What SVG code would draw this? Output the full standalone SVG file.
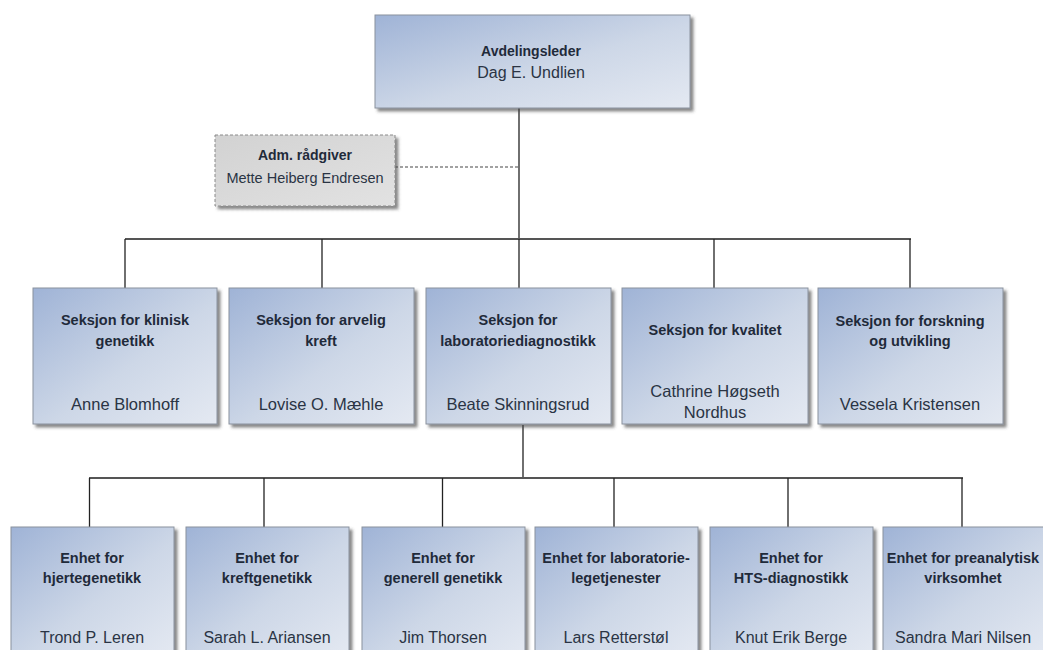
<svg xmlns="http://www.w3.org/2000/svg" width="1043" height="650" viewBox="0 0 1043 650">
<defs>
<linearGradient id="blue" x1="0" y1="0" x2="1" y2="1">
<stop offset="0" stop-color="#9fb3d6"/>
<stop offset="0.55" stop-color="#cdd7e7"/>
<stop offset="1" stop-color="#e4e9f2"/>
</linearGradient>
<linearGradient id="gray" x1="0" y1="0" x2="1" y2="1">
<stop offset="0" stop-color="#d2d2d2"/>
<stop offset="1" stop-color="#e2e2e2"/>
</linearGradient>
<filter id="sh" x="-10%" y="-10%" width="125%" height="130%">
<feDropShadow dx="3" dy="3" stdDeviation="1.6" flood-color="#444" flood-opacity="0.65"/>
</filter>
</defs>
<style>
.box{fill:url(#blue);stroke:#8a929e;stroke-width:1;filter:url(#sh)}
.adm{fill:url(#gray);stroke:#8a8a8a;stroke-width:1;stroke-dasharray:3 2;filter:url(#sh)}
.t{font-family:"Liberation Sans",Arial,sans-serif;font-size:14.5px;font-weight:bold;fill:#1f2a3a;text-anchor:middle}
.n{font-family:"Liberation Sans",Arial,sans-serif;font-size:16.5px;fill:#2a3444;text-anchor:middle}
.u{font-size:16px}
.c{stroke:#222;stroke-width:1.3;fill:none}
.bus{stroke:#555;stroke-width:2;fill:none}
.d{stroke:#444;stroke-width:1.2;stroke-dasharray:3 2;fill:none}
</style>
<rect width="1043" height="650" fill="#ffffff"/>
<g id="connectors">
<line class="c" x1="519" y1="108" x2="519" y2="239"/>
<line class="d" x1="395" y1="167" x2="519" y2="167"/>
<line class="bus" x1="125" y1="239" x2="911" y2="239"/>
<line class="c" x1="125" y1="239" x2="125" y2="288"/>
<line class="c" x1="322" y1="239" x2="322" y2="288"/>
<line class="c" x1="519" y1="239" x2="519" y2="288"/>
<line class="c" x1="714" y1="239" x2="714" y2="288"/>
<line class="c" x1="910" y1="239" x2="910" y2="288"/>
<line class="c" x1="523" y1="425" x2="523" y2="478"/>
<line class="bus" x1="89" y1="478" x2="963" y2="478"/>
<line class="c" x1="89.5" y1="478" x2="89.5" y2="527"/>
<line class="c" x1="264" y1="478" x2="264" y2="527"/>
<line class="c" x1="442.5" y1="478" x2="442.5" y2="527"/>
<line class="c" x1="614" y1="478" x2="614" y2="527"/>
<line class="c" x1="788" y1="478" x2="788" y2="527"/>
<line class="c" x1="962" y1="478" x2="962" y2="527"/>
</g>
<g id="avdelingsleder">
<rect class="box" x="375" y="15" width="315" height="93"/>
<text class="t" x="531" y="56" style="font-size:14px">Avdelingsleder</text>
<text class="n" x="531" y="78" style="font-size:16px">Dag E. Undlien</text>
</g>
<g id="adm">
<rect class="adm" x="215" y="135" width="180" height="71"/>
<text class="t" x="305" y="160" style="font-size:14px">Adm. rådgiver</text>
<text class="n" x="305" y="183" style="font-size:14.5px">Mette Heiberg Endresen</text>
</g>
<g id="s1">
<rect class="box" x="33" y="288" width="184" height="136"/>
<text class="t" x="125" y="325">Seksjon for klinisk</text>
<text class="t" x="125" y="346">genetikk</text>
<text class="n" x="125" y="410">Anne Blomhoff</text>
</g>
<g id="s2">
<rect class="box" x="229" y="288" width="185" height="136"/>
<text class="t" x="321" y="325">Seksjon for arvelig</text>
<text class="t" x="321" y="346">kreft</text>
<text class="n" x="321" y="410">Lovise O. Mæhle</text>
</g>
<g id="s3">
<rect class="box" x="426" y="288" width="185" height="136"/>
<text class="t" x="518" y="325">Seksjon for</text>
<text class="t" x="518" y="346">laboratoriediagnostikk</text>
<text class="n" x="518" y="410">Beate Skinningsrud</text>
</g>
<g id="s4">
<rect class="box" x="622" y="288" width="186" height="136"/>
<text class="t" x="715" y="335">Seksjon for kvalitet</text>
<text class="n" x="715" y="397">Cathrine Høgseth</text>
<text class="n" x="715" y="418">Nordhus</text>
</g>
<g id="s5">
<rect class="box" x="818" y="288" width="185" height="136"/>
<text class="t" x="910" y="326">Seksjon for forskning</text>
<text class="t" x="910" y="346">og utvikling</text>
<text class="n" x="910" y="410">Vessela Kristensen</text>
</g>
<g id="u1">
<rect class="box" x="11" y="527" width="163" height="130"/>
<text class="t" x="92" y="563">Enhet for</text>
<text class="t" x="92" y="583">hjertegenetikk</text>
<text class="n u" x="92" y="643">Trond P. Leren</text>
</g>
<g id="u2">
<rect class="box" x="186" y="527" width="163" height="130"/>
<text class="t" x="267" y="563">Enhet for</text>
<text class="t" x="267" y="583">kreftgenetikk</text>
<text class="n u" x="267" y="643">Sarah L. Ariansen</text>
</g>
<g id="u3">
<rect class="box" x="362" y="527" width="163" height="130"/>
<text class="t" x="443" y="563">Enhet for</text>
<text class="t" x="443" y="583">generell genetikk</text>
<text class="n u" x="443" y="643">Jim Thorsen</text>
</g>
<g id="u4">
<rect class="box" x="535" y="527" width="163" height="130"/>
<text class="t" x="616" y="563">Enhet for laboratorie-</text>
<text class="t" x="616" y="583">legetjenester</text>
<text class="n u" x="616" y="643">Lars Retterstøl</text>
</g>
<g id="u5">
<rect class="box" x="710" y="527" width="163" height="130"/>
<text class="t" x="791" y="563">Enhet for</text>
<text class="t" x="791" y="583">HTS-diagnostikk</text>
<text class="n u" x="791" y="643">Knut Erik Berge</text>
</g>
<g id="u6">
<rect class="box" x="883" y="527" width="165" height="130"/>
<text class="t" x="963" y="563">Enhet for preanalytisk</text>
<text class="t" x="963" y="583">virksomhet</text>
<text class="n u" x="963" y="643">Sandra Mari Nilsen</text>
</g>
</svg>
